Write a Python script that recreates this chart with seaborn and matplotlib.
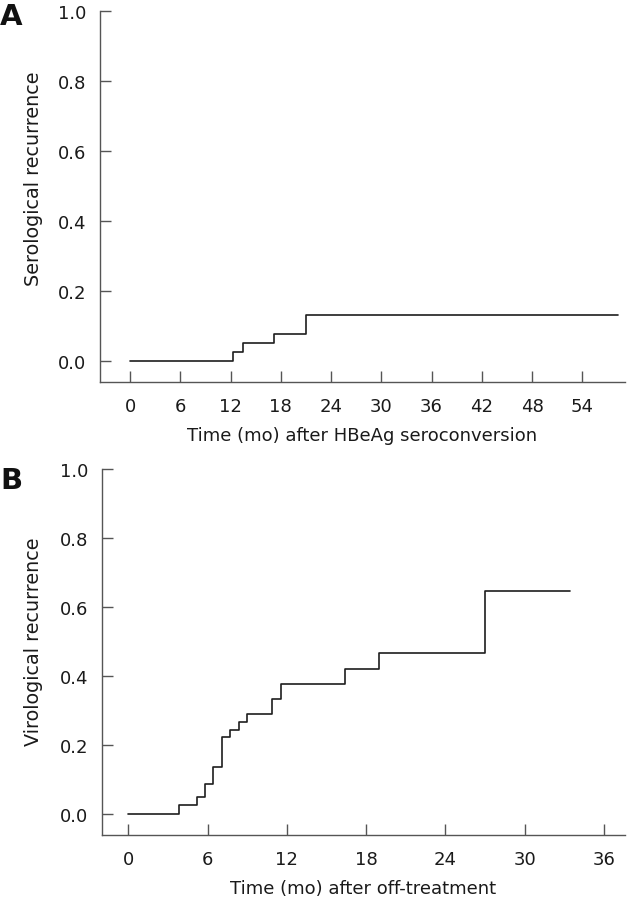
import numpy as np
import pandas as pd
import matplotlib
matplotlib.use("Agg")
import matplotlib.pyplot as plt
import seaborn as sns

# Panel A: serological recurrence (cumulative, step function)
sero_time = [0, 12.3, 13.5, 17.2, 21.0, 58.3]
sero_value = [0.0, 0.026, 0.051, 0.077, 0.131, 0.131]

# Panel B: virological recurrence (cumulative, step function)
viro_time = [0, 3.83, 5.17, 5.8, 6.43, 7.06, 7.71, 8.35, 9.0, 10.9, 11.57,
             16.4, 19.0, 27.0, 33.4]
viro_value = [0.0, 0.026, 0.051, 0.088, 0.138, 0.223, 0.244, 0.266, 0.289,
              0.333, 0.377, 0.422, 0.468, 0.647, 0.647]

yticks = [0.0, 0.2, 0.4, 0.6, 0.8, 1.0]
sero_xticks = [0, 6, 12, 18, 24, 30, 36, 42, 48, 54]
viro_xticks = [0, 6, 12, 18, 24, 30, 36]

sns.set_theme(style="white")
plt.rcParams['font.family'] = ['DejaVu Sans']

W, H = 630, 904
fig = plt.figure(figsize=(W / 100, H / 100), dpi=100)

def box(l, t, r, b):
    return [l / W, 1 - b / H, (r - l) / W, (b - t) / H]

ax_a = fig.add_axes(box(100, 12, 625, 383))
ax_b = fig.add_axes(box(102, 470, 625, 836))

line_color = "#1e1e1e"
spine_color = "#555555"
text_color = "#1a1a1a"

def style(ax, xticks, xlim, ylabel, xlabel, ylab_x, ylab_y):
    ax.set_xlim(*xlim)
    ax.set_ylim(-0.06, 1.0)
    ax.set_xticks(xticks)
    ax.set_yticks(yticks)
    ax.set_yticklabels([f"{v:.1f}" for v in yticks])
    for s in ["top", "right"]:
        ax.spines[s].set_visible(False)
    for s in ["left", "bottom"]:
        ax.spines[s].set_color(spine_color)
        ax.spines[s].set_linewidth(1.0)
    ax.tick_params(axis="both", direction="in", length=8, width=1.0,
                   color=spine_color, labelsize=13, labelcolor=text_color,
                   left=True, bottom=True)
    ax.tick_params(axis="y", pad=10)
    ax.tick_params(axis="x", pad=11)
    ax.set_xlabel(xlabel, fontsize=13, color=text_color, labelpad=8)
    ax.set_ylabel(ylabel, fontsize=13.8, color=text_color)
    ax.yaxis.set_label_coords(ylab_x, ylab_y)
    ax.grid(False)

df_a = pd.DataFrame({"time": sero_time, "value": sero_value})
sns.lineplot(data=df_a, x="time", y="value", ax=ax_a, drawstyle="steps-post",
             estimator=None, color=line_color, linewidth=1.2)
style(ax_a, sero_xticks, (-3.6, 59.1), "Serological recurrence",
      "Time (mo) after HBeAg seroconversion", -0.108, 0.55)

df_b = pd.DataFrame({"time": viro_time, "value": viro_value})
sns.lineplot(data=df_b, x="time", y="value", ax=ax_b, drawstyle="steps-post",
             estimator=None, color=line_color, linewidth=1.2)
style(ax_b, viro_xticks, (-2.0, 37.6), "Virological recurrence",
      "Time (mo) after off-treatment", -0.113, 0.53)

fig.text(0 / W, 1 - 17 / H, "A", fontsize=21, fontweight="heavy",
         va="center", ha="left", color="#111111")
fig.text(0 / W, 1 - 481 / H, "B", fontsize=21, fontweight="heavy",
         va="center", ha="left", color="#111111")

fig.savefig("out.png", dpi=100)
